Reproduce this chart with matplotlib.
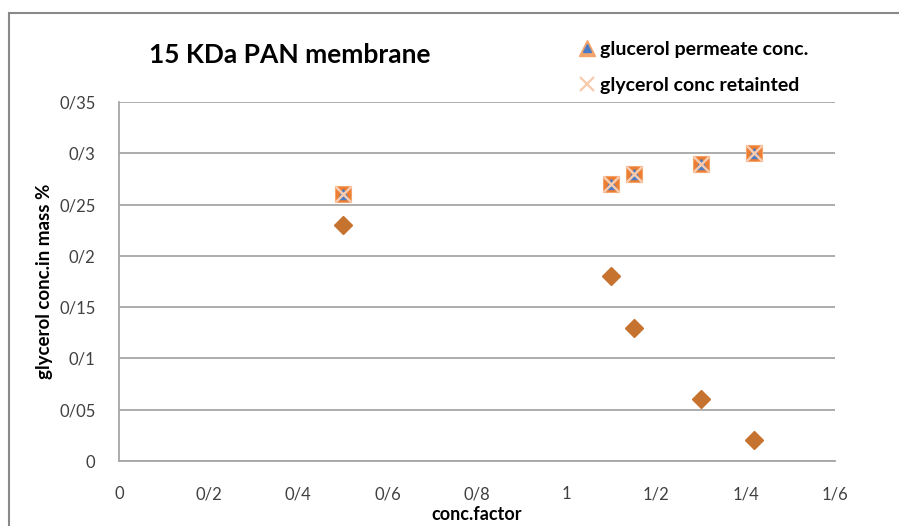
import matplotlib
matplotlib.use("Agg")
import matplotlib.pyplot as plt
from matplotlib.lines import Line2D
from matplotlib.legend_handler import HandlerTuple
from matplotlib.patches import Rectangle

plt.rcParams['font.family'] = ['Lato', 'DejaVu Sans']

# ---- data ----
conc_factor = [0.5, 1.1, 1.15, 1.3, 1.42]
permeate_conc = [0.26, 0.27, 0.28, 0.29, 0.30]
retained_conc = [0.26, 0.27, 0.28, 0.29, 0.30]
square_series = [0.26, 0.27, 0.28, 0.29, 0.30]
diamond_series = [0.23, 0.18, 0.13, 0.06, 0.02]

x_ticks = [0, 0.2, 0.4, 0.6, 0.8, 1.0, 1.2, 1.4, 1.6]
x_tick_labels = ['0', '0/2', '0/4', '0/6', '0/8', '1', '1/2', '1/4', '1/6']
y_ticks = [0, 0.05, 0.1, 0.15, 0.2, 0.25, 0.3, 0.35]
y_tick_labels = ['0', '0/05', '0/1', '0/15', '0/2', '0/25', '0/3', '0/35']

title = '15 KDa PAN membrane'
x_label = 'conc.factor'
y_label = 'glycerol conc.in mass %'
legend_labels = ['glucerol permeate conc.', 'glycerol conc retainted']

W, H = 899, 526
fig = plt.figure(figsize=(W / 100, H / 100), dpi=100)

# chart border (Excel style)
fig.patches.append(Rectangle((9 / W, -0.1), 1.2, (1 - 13 / H) + 0.1,
                             transform=fig.transFigure, fill=False,
                             edgecolor='#898989', linewidth=1.5))

left, right, bottom, top = 119 / W, 835 / W, 1 - 461 / H, 1 - 102 / H
ax = fig.add_axes([left, bottom, right - left, top - bottom])
ax.set_xlim(0, 1.6)
ax.set_ylim(0, 0.35)

grid_c = '#a6a6a6'
ax.set_yticks(y_ticks)
ax.set_yticklabels(y_tick_labels)
ax.set_xticks(x_ticks)
ax.set_xticklabels(x_tick_labels)
ax.tick_params(length=0, labelsize=12, colors='#404040')
ax.tick_params(axis='y', pad=17)
ax.tick_params(axis='x', pad=18)
ax.grid(axis='y', color=grid_c, linewidth=1.3)
ax.set_axisbelow(True)
for s in ['top', 'right']:
    ax.spines[s].set_visible(False)
for s in ['left', 'bottom']:
    ax.spines[s].set_color(grid_c)
    ax.spines[s].set_linewidth(1.3)

# series
ax.plot(conc_factor, diamond_series, linestyle='none', marker='D',
        markersize=9.5, color='#C5732F', zorder=3)
ax.plot(conc_factor, square_series, linestyle='none', marker='s',
        markersize=12, color='#ED7D31', markeredgecolor='#F4A46A',
        markeredgewidth=0.8, zorder=3)
ax.plot(conc_factor, permeate_conc, linestyle='none', marker='^',
        markersize=6.5, color='#4A7BC4', zorder=4)
ax.plot(conc_factor, retained_conc, linestyle='none', marker='x',
        markersize=11, markeredgewidth=1.8, color='#F8CBAD', zorder=5)

ax.set_xlabel(x_label, fontsize=13, fontweight='bold')
ax.xaxis.label.set_va('center')
ax.xaxis.set_label_coords(0.5, (461 - 515) / 359)
ax.set_ylabel(y_label, fontsize=13.5, fontweight='bold')
ax.yaxis.label.set_va('center')
ax.yaxis.set_label_coords((45 - 119) / 716, 0.5)

fig.text(290 / W, 1 - 55 / H, title, fontsize=19, fontweight='bold',
         ha='center', va='center')

h1 = (Line2D([], [], linestyle='none', marker='^', markersize=11, color='#F4A46A'),
      Line2D([], [], linestyle='none', marker='^', markersize=6, color='#4A7BC4'))
h2 = Line2D([], [], linestyle='none', marker='x', markersize=10,
            markeredgewidth=1.6, color='#F8CBAD')
leg = fig.legend([h1, h2], legend_labels,
                 handler_map={tuple: HandlerTuple(ndivide=1, pad=0)},
                 loc='upper left', bbox_to_anchor=(571 / W, 1 - 33 / H),
                 frameon=False, prop={'weight': 'bold', 'size': 14},
                 handlelength=0.8, handletextpad=0.3, labelspacing=1.0,
                 borderaxespad=0)

fig.savefig('out.png', dpi=100)
